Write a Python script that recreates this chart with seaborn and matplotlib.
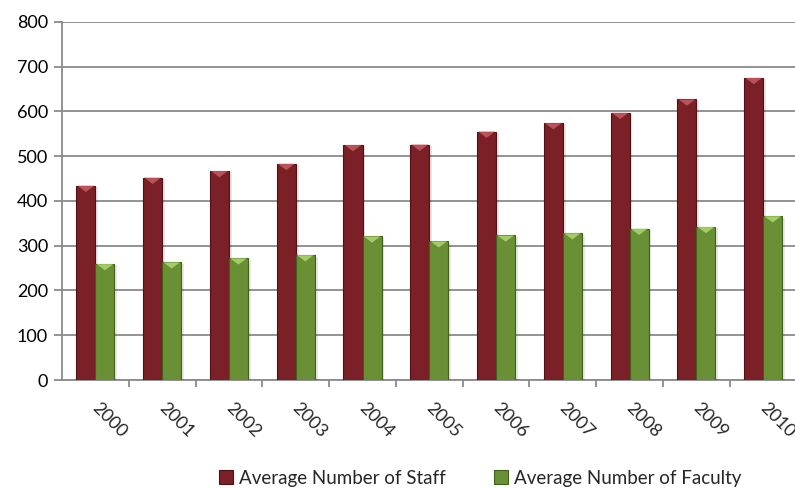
import numpy as np
import pandas as pd
import matplotlib
matplotlib.use("Agg")
import matplotlib.pyplot as plt
import matplotlib.transforms as mtransforms
from matplotlib.patches import Polygon, Rectangle
from matplotlib.ticker import FixedLocator
from matplotlib import patheffects as pe
import seaborn as sns

years = ["2000", "2001", "2002", "2003", "2004", "2005",
         "2006", "2007", "2008", "2009", "2010"]
staff = [434, 452, 467, 483, 525, 526, 555, 574, 597, 627, 675]
faculty = [259, 263, 272, 279, 321, 310, 323, 328, 338, 342, 366]
series_names = ["Average Number of Staff", "Average Number of Faculty"]
y_ticks = [0, 100, 200, 300, 400, 500, 600, 700, 800]

colors = {series_names[0]: "#7b2027", series_names[1]: "#6a9035"}
edge_colors = {series_names[0]: "#4e1216", series_names[1]: "#42601d"}
cap_colors = {series_names[0]: "#c2585e", series_names[1]: "#a9d36c"}

df = pd.DataFrame({
    "Year": years * 2,
    "Value": staff + faculty,
    "Series": [series_names[0]] * len(years) + [series_names[1]] * len(years),
})

sns.set_theme(style="white")
plt.rcParams["font.family"] = ["Lato", "DejaVu Sans"]

fig = plt.figure(figsize=(7.95, 4.88), dpi=100)
ax = fig.add_axes([0.078, 0.2213, 0.924, 0.7337])

sns.barplot(data=df, x="Year", y="Value", hue="Series", order=years,
            hue_order=series_names, palette=colors, width=0.57,
            saturation=1, legend=False, ax=ax, zorder=3)

# bevelled look: darker rims, a light triangular cap and a soft shadow
n = len(years)
for i, bar in enumerate(ax.patches[:2 * n]):
    name = series_names[i // n]
    bar.set_edgecolor(edge_colors[name])
    bar.set_linewidth(0.8)
    bar.set_path_effects([pe.SimplePatchShadow(offset=(2, -1), alpha=0.1),
                          pe.Normal()])
    x0, w = bar.get_x(), bar.get_width()
    top = bar.get_height()
    cap_h = 14
    cap = Polygon([[x0 + 0.06 * w, top], [x0 + 0.94 * w, top],
                   [x0 + 0.5 * w, top - cap_h]], closed=True,
                  facecolor=cap_colors[name], edgecolor="none", alpha=0.9,
                  zorder=4)
    ax.add_patch(cap)

ax.set_ylim(0, 800)
ax.set_xlim(-0.5, len(years) - 0.5)
ax.set_yticks(y_ticks)
ax.set_yticklabels([str(t) for t in y_ticks], fontsize=13, color="#000000")
ax.set_xlabel("")
ax.set_ylabel("")

grid_gray = "#8a8a8a"
ax.yaxis.grid(True, color=grid_gray, linewidth=1.3, zorder=0)
ax.xaxis.grid(False)
ax.set_axisbelow(True)
for s in ["top", "right"]:
    ax.spines[s].set_visible(False)
for s in ["left", "bottom"]:
    ax.spines[s].set_color(grid_gray)
    ax.spines[s].set_linewidth(1.3)
ax.tick_params(axis="y", which="major", left=True, length=6, width=1.3,
               color=grid_gray, pad=4)
ax.tick_params(axis="x", which="major", bottom=True, length=0, pad=14)
ax.xaxis.set_minor_locator(FixedLocator(np.arange(0.5, len(years) - 0.5, 1.0)))
ax.tick_params(axis="x", which="minor", bottom=True, length=5, width=1.3,
               color=grid_gray)

offset = mtransforms.ScaledTranslation(14 / 100, 0, fig.dpi_scale_trans)
for lab in ax.get_xticklabels():
    lab.set_rotation(-45)
    lab.set_ha("center")
    lab.set_va("top")
    lab.set_fontsize(13)
    lab.set_transform(lab.get_transform() + offset)

handles = [Rectangle((0, 0), 1, 1, facecolor=colors[s],
                     edgecolor=edge_colors[s], linewidth=0.8)
           for s in series_names]
fig.legend(handles, series_names, loc="center", ncol=2,
           bbox_to_anchor=(0.604, 0.02), frameon=False, fontsize=13.5,
           handlelength=0.75, handleheight=0.75, handletextpad=0.3,
           columnspacing=2.6)

fig.savefig("out.png", dpi=100)
